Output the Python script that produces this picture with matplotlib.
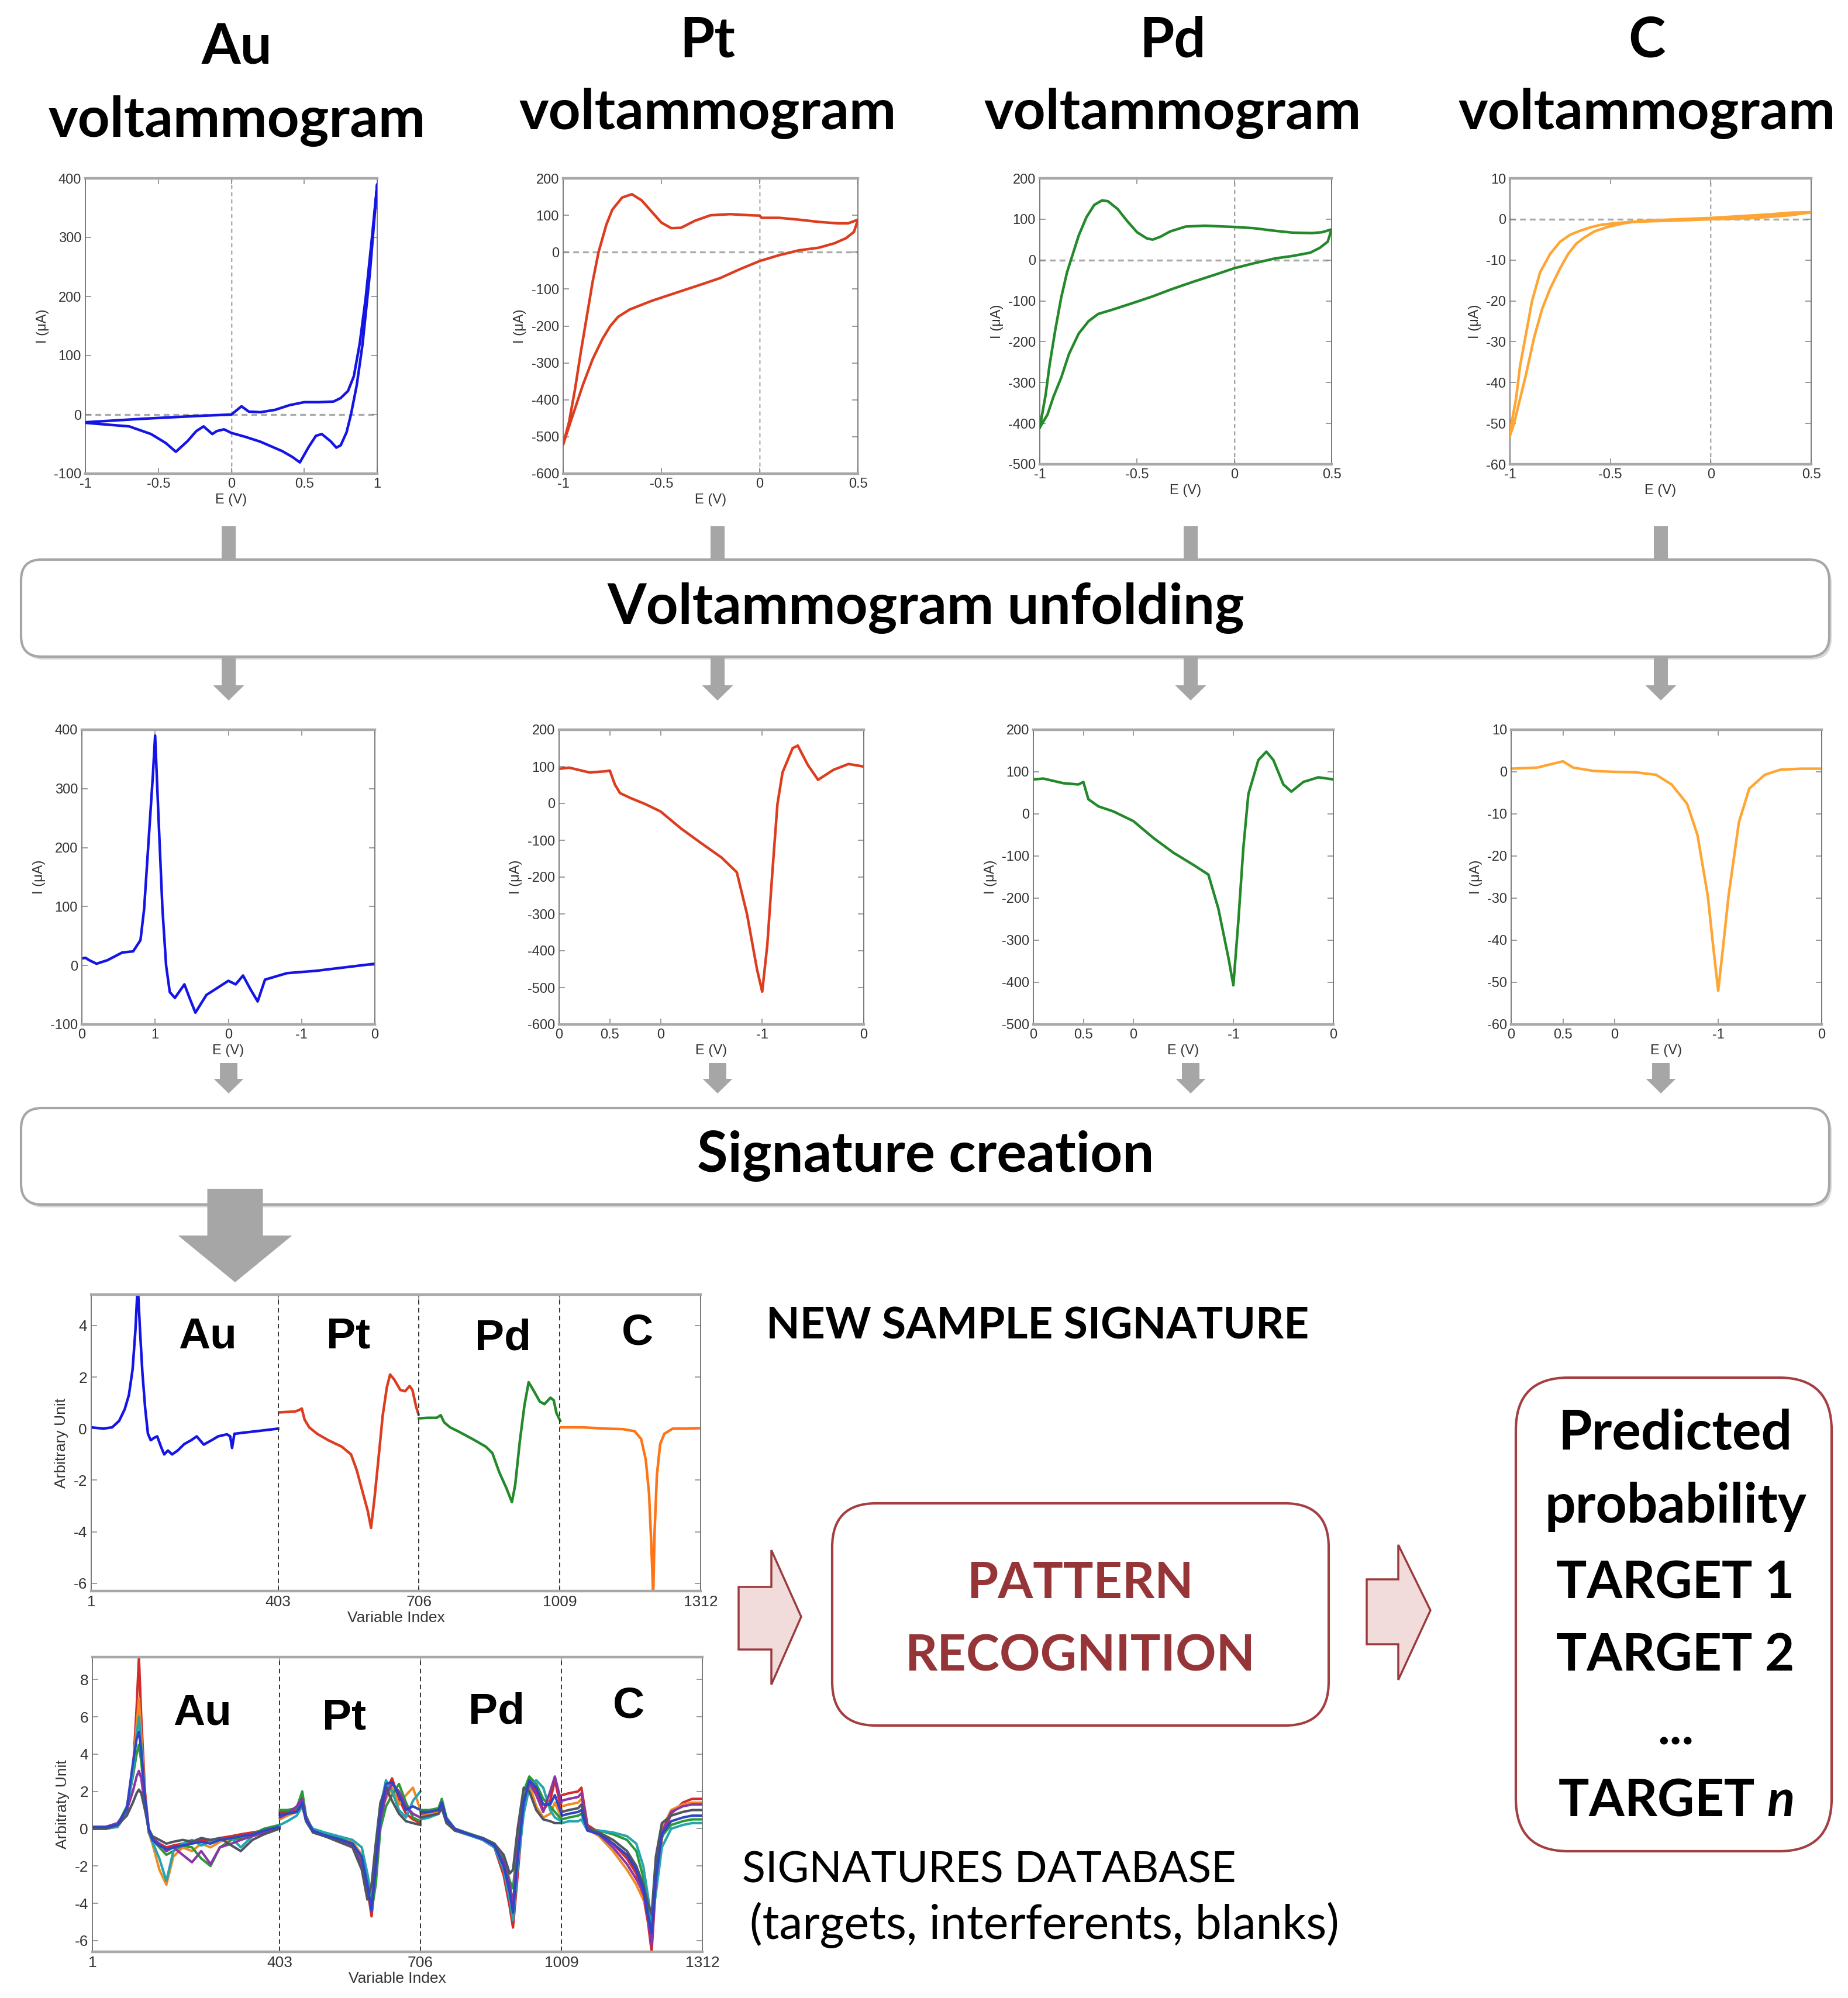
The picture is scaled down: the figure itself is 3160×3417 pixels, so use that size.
import matplotlib
matplotlib.use("Agg")
import matplotlib.pyplot as plt
from matplotlib.patches import FancyBboxPatch, Polygon

plt.rcParams['font.family'] = ['Liberation Sans', 'DejaVu Sans']
plt.rcParams['axes.unicode_minus'] = False
plt.rcParams['mathtext.fontset'] = 'custom'
plt.rcParams['mathtext.it'] = 'Lato:bold:italic'

W, H = 3160, 3417
BIG = ['Lato', 'DejaVu Sans']

# ---------------- cyclic voltammograms (E in V, I in uA) ----------------
au_cv_e = [-1.0, -0.8, -0.6, -0.4, -0.2, 0.0, 0.04, 0.07, 0.12, 0.2, 0.3, 0.4, 0.5, 0.6, 0.7, 0.75,
           0.8, 0.84, 0.88, 0.92, 0.96, 1.0,
           0.95, 0.9, 0.86, 0.82, 0.79, 0.75, 0.72, 0.68, 0.62, 0.58, 0.53, 0.47, 0.42, 0.35, 0.2,
           0.1, 0.0, -0.05, -0.1, -0.13, -0.19, -0.24, -0.3, -0.38, -0.45, -0.55, -0.7, -0.85, -1.0]
au_cv_i = [-13, -10, -7, -4.5, -2, 0, 8, 14, 5, 4, 8, 16, 21, 21, 22, 28,
           40, 65, 120, 195, 290, 390,
           240, 120, 50, 0, -30, -52, -56, -45, -33, -36, -55, -81, -72, -62, -46,
           -38, -31, -25, -28, -33, -20, -28, -45, -63, -48, -33, -20, -17, -14]

pt_cv_e = [-1.0, -0.97, -0.94, -0.91, -0.88, -0.85, -0.82, -0.78, -0.75, -0.7, -0.65, -0.6, -0.55,
           -0.5, -0.45, -0.4, -0.33, -0.25, -0.15, -0.05, 0.0, 0.01, 0.1, 0.2, 0.3, 0.4, 0.45, 0.5,
           0.48, 0.44, 0.38, 0.3, 0.2, 0.1, 0.0, -0.1, -0.2, -0.3, -0.42, -0.55, -0.66, -0.72,
           -0.76, -0.8, -0.85, -0.9, -0.95, -1.0]
pt_cv_i = [-520, -460, -372, -270, -175, -80, 0, 75, 115, 148, 157, 140, 110,
           80, 65, 66, 85, 100, 103, 100, 99, 93, 93, 88, 82, 78, 78, 88,
           55, 38, 24, 12, 5, -8, -24, -46, -70, -88, -109, -132, -155, -175,
           -200, -235, -290, -360, -440, -520]

pd_cv_e = [-1.0, -0.97, -0.95, -0.92, -0.89, -0.86, -0.84, -0.8, -0.76, -0.72, -0.68, -0.65, -0.6,
           -0.55, -0.5, -0.45, -0.42, -0.38, -0.33, -0.25, -0.15, 0.0, 0.1, 0.2, 0.3, 0.4, 0.45, 0.5,
           0.48, 0.44, 0.39, 0.3, 0.21, 0.1, 0.0, -0.1, -0.21, -0.32, -0.42, -0.52, -0.63, -0.7,
           -0.75, -0.8, -0.85, -0.89, -0.93, -0.96, -1.0]
pd_cv_i = [-410, -330, -258, -170, -92, -30, 0, 60, 105, 135, 146, 144, 125,
           95, 68, 53, 50, 57, 70, 82, 84, 81, 78, 72, 67, 66, 68, 75,
           45, 30, 18, 10, 4, -8, -20, -36, -53, -71, -89, -105, -122, -132,
           -150, -180, -230, -288, -335, -378, -410]

c_cv_e = [-1.0, -0.97, -0.95, -0.92, -0.89, -0.85, -0.8, -0.75, -0.7, -0.66, -0.6, -0.55, -0.48,
          -0.4, -0.3, -0.22, -0.1, 0.0, 0.1, 0.22, 0.3, 0.4, 0.5,
          0.4, 0.3, 0.2, 0.1, 0.0, -0.1, -0.2, -0.3, -0.36, -0.42, -0.48, -0.52, -0.58, -0.63,
          -0.67, -0.71, -0.75, -0.8, -0.84, -0.88, -0.92, -0.95, -0.98, -1.0]
c_cv_i = [-52, -44, -36, -28, -20, -13, -8.5, -5.5, -3.8, -3.0, -2.0, -1.4, -1.0,
          -0.7, -0.5, -0.4, -0.2, 0.0, 0.1, 0.3, 0.6, 1.0, 1.7,
          1.6, 1.2, 0.9, 0.6, 0.3, 0.1, -0.1, -0.3, -0.5, -0.9, -1.5, -2.0, -3.0, -4.5,
          -6.0, -8.5, -12, -17, -22, -29, -38, -44, -50, -53]

# ---------------- unfolded voltammograms (sweep position, I in uA) ----------------
au_unf_x = [0, 0.05, 0.1, 0.2, 0.35, 0.55, 0.7, 0.8, 0.85, 0.9, 0.97, 1.0, 1.05, 1.1, 1.15, 1.2,
            1.27, 1.4, 1.47, 1.55, 1.7, 2.0, 2.1, 2.2, 2.3, 2.4, 2.5, 2.8, 3.2, 3.6, 4.0]
au_unf_y = [12, 13, 9, 3, 9, 22, 24, 43, 96, 191, 324, 390, 240, 96, 0, -45,
            -55, -32, -55, -80, -50, -26, -32, -17, -40, -61, -24, -13, -9, -3, 3]

pt_unf_x = [0, 0.1, 0.3, 0.45, 0.5, 0.55, 0.6, 0.7, 0.85, 1.0, 1.2, 1.4, 1.6, 1.75, 1.85, 1.95,
            2.0, 2.05, 2.1, 2.15, 2.2, 2.3, 2.35, 2.45, 2.55, 2.7, 2.85, 3.0]
pt_unf_y = [94, 97, 84, 87, 89, 51, 28, 15, -2, -22, -68, -108, -147, -187, -300, -452,
            -511, -385, -187, -2, 84, 150, 157, 104, 64, 91, 107, 100]

pd_unf_x = [0, 0.1, 0.3, 0.45, 0.5, 0.55, 0.65, 0.8, 1.0, 1.2, 1.4, 1.6, 1.75, 1.85, 1.95, 2.0,
            2.05, 2.1, 2.15, 2.25, 2.33, 2.4, 2.5, 2.58, 2.7, 2.85, 3.0]
pd_unf_y = [82, 84, 73, 70, 76, 35, 18, 6, -17, -57, -92, -121, -144, -225, -341, -407,
            -254, -80, 47, 128, 148, 128, 70, 53, 76, 87, 82]

c_unf_x = [0, 0.25, 0.45, 0.5, 0.6, 0.8, 1.0, 1.2, 1.4, 1.55, 1.7, 1.8, 1.9, 1.95, 2.0, 2.05,
           2.1, 2.2, 2.3, 2.45, 2.6, 2.8, 3.0]
c_unf_y = [0.75, 1.0, 2.2, 2.5, 1.0, 0.2, 0, -0.1, -0.7, -3, -7.6, -15, -29.5, -41, -52, -41,
           -29.5, -12, -4, -0.7, 0.5, 0.75, 0.75]

# ---------------- new sample signature (variable index, arbitrary unit) ----------------
sig_au_x = [1, 27, 46, 61, 73, 82, 90, 96, 101, 106, 111, 117, 123, 129, 137, 143, 151, 158, 166,
            175, 187, 201, 216, 228, 243, 260, 274, 293, 300, 304, 309, 332, 366, 403]
sig_au_y = [0.05, 0.0, 0.05, 0.3, 0.75, 1.3, 2.3, 3.8, 5.6, 3.8, 2.2, 0.8, -0.2, -0.45, -0.35, -0.3,
            -0.7, -1.0, -0.85, -1.0, -0.85, -0.6, -0.45, -0.3, -0.62, -0.45, -0.3, -0.22, -0.3,
            -0.75, -0.2, -0.15, -0.08, 0.0]
sig_pt_x = [406, 424, 439, 448, 454, 460, 470, 487, 511, 540, 560, 572, 584, 596, 603, 611, 621,
            628, 637, 644, 653, 666, 676, 686, 692, 700, 705]
sig_pt_y = [0.63, 0.65, 0.66, 0.72, 0.78, 0.35, 0.05, -0.2, -0.45, -0.7, -1.0, -1.6, -2.4, -3.2,
            -3.85, -2.6, -0.8, 0.5, 1.6, 2.1, 1.9, 1.5, 1.45, 1.65, 1.5, 0.85, 0.55]
sig_pd_x = [706, 725, 744, 753, 760, 773, 792, 821, 850, 864, 879, 894, 906, 913, 923, 933, 942,
            952, 966, 976, 989, 996, 1002, 1010]
sig_pd_y = [0.4, 0.42, 0.42, 0.52, 0.25, 0.05, -0.12, -0.4, -0.7, -0.95, -1.7, -2.3, -2.85, -2.2,
            -0.5, 0.9, 1.8, 1.5, 1.05, 0.95, 1.2, 1.1, 0.6, 0.3]
sig_c_x = [1012, 1058, 1107, 1145, 1170, 1184, 1194, 1201, 1206, 1210, 1213, 1218, 1225, 1234,
           1252, 1281, 1312]
sig_c_y = [0.05, 0.05, 0.0, -0.02, -0.1, -0.4, -1.2, -2.5, -4.5, -6.5, -4.0, -1.8, -0.6, -0.2,
           0.0, 0.0, 0.02]

# ---------------- signatures database (7 visible traces per electrode) ----------------
db_au_x = [1, 30, 55, 75, 88, 96, 101, 106, 114, 122, 130, 145, 160, 175, 195, 215, 235, 255,
           275, 300, 320, 345, 370, 403]
db_au = [
    [0.0, 0.0, 0.1, 0.8, 3.0, 6.5, 9.2, 6.0, 2.0, 0.0, -0.6, -0.8, -1.0, -0.9, -0.8, -0.7, -0.6, -0.7, -0.5, -0.4, -0.3, -0.2, -0.1, 0.1],
    [0.1, 0.1, 0.2, 1.0, 3.2, 5.5, 7.0, 5.0, 1.8, -0.2, -0.8, -2.2, -3.0, -1.5, -1.0, -1.2, -0.8, -1.0, -0.7, -0.5, -0.4, -0.3, -0.1, 0.1],
    [0.0, 0.0, 0.2, 1.2, 2.8, 4.0, 4.5, 3.6, 1.5, -0.2, -0.6, -1.0, -1.4, -1.2, -0.9, -1.0, -1.6, -2.0, -1.0, -0.6, -0.5, -0.3, 0.0, 0.2],
    [0.0, 0.0, 0.1, 0.9, 3.0, 5.0, 6.0, 4.5, 1.6, -0.1, -0.7, -1.6, -2.8, -1.2, -0.8, -0.6, -0.9, -0.7, -0.6, -0.5, -1.0, -0.4, -0.2, 0.1],
    [0.0, 0.1, 0.3, 1.0, 2.0, 2.8, 3.1, 2.7, 1.2, -0.1, -0.5, -0.8, -1.2, -1.0, -1.4, -1.8, -1.2, -1.9, -1.0, -0.8, -0.6, -0.4, -0.2, 0.0],
    [0.0, 0.0, 0.2, 0.7, 1.4, 1.9, 2.1, 1.9, 1.0, 0.0, -0.4, -0.6, -0.8, -0.7, -0.6, -0.7, -0.5, -0.6, -0.5, -0.9, -1.2, -0.6, -0.3, 0.0],
    [0.1, 0.1, 0.2, 1.1, 3.5, 4.8, 5.2, 4.2, 1.7, 0.0, -0.6, -0.9, -1.1, -1.0, -0.9, -0.8, -0.7, -0.8, -0.6, -0.5, -0.4, -0.3, -0.1, 0.1],
]
db_pt_x = [404, 420, 440, 452, 460, 475, 500, 530, 560, 580, 592, 601, 610, 620, 632, 645, 660,
           675, 690, 706]
db_pt = [
    [0.9, 0.9, 1.0, 1.8, 0.6, -0.2, -0.4, -0.6, -0.9, -1.8, -3.2, -4.7, -2.5, 0.8, 2.0, 2.7, 1.6, 0.8, 0.5, 0.3],
    [0.5, 0.7, 0.9, 1.5, 0.5, -0.1, -0.3, -0.5, -0.7, -1.4, -2.8, -4.2, -1.8, 1.0, 1.6, 2.2, 1.3, 1.8, 2.2, 1.0],
    [1.0, 1.0, 1.1, 2.0, 0.7, -0.1, -0.3, -0.5, -0.8, -1.6, -3.0, -4.4, -3.0, 0.0, 1.2, 1.8, 2.4, 1.4, 0.6, 0.4],
    [0.2, 0.4, 0.7, 1.2, 0.5, 0.0, -0.2, -0.4, -0.6, -1.0, -2.4, -3.6, -1.2, 1.2, 2.6, 2.0, 1.0, 0.6, 1.5, 2.0],
    [0.6, 0.8, 1.2, 1.6, 0.6, -0.1, -0.4, -0.6, -0.9, -1.9, -3.5, -4.0, -2.2, 0.4, 1.8, 2.4, 2.0, 1.2, 0.8, 0.6],
    [0.8, 0.8, 0.9, 1.3, 0.4, -0.2, -0.4, -0.7, -1.0, -2.2, -3.8, -3.0, -0.8, 1.4, 2.2, 1.5, 0.8, 0.4, 0.3, 0.2],
    [0.7, 0.8, 0.9, 1.4, 0.5, -0.1, -0.35, -0.55, -0.8, -1.5, -3.0, -4.4, -2.0, 0.8, 2.4, 2.5, 1.8, 1.0, 1.2, 1.0],
]
db_pd_x = [707, 725, 745, 752, 762, 780, 810, 840, 865, 885, 898, 905, 915, 928, 940, 955, 970,
           985, 995, 1009]
db_pd = [
    [0.9, 0.9, 1.0, 1.5, 0.5, 0.0, -0.3, -0.6, -1.0, -2.5, -4.2, -5.3, -2.5, 1.2, 2.6, 2.0, 1.0, 1.5, 2.6, 1.0],
    [0.7, 0.8, 0.9, 1.3, 0.4, -0.1, -0.3, -0.5, -0.9, -2.0, -3.5, -4.6, -1.5, 1.6, 2.4, 1.2, 0.6, 0.8, 1.4, 0.6],
    [1.0, 1.0, 1.1, 1.6, 0.6, 0.0, -0.25, -0.5, -0.8, -1.6, -2.8, -3.2, -0.8, 2.0, 2.8, 2.4, 1.6, 1.2, 0.9, 0.5],
    [0.5, 0.6, 0.8, 1.2, 0.4, -0.1, -0.35, -0.6, -1.0, -2.2, -3.8, -4.9, -2.0, 0.8, 2.2, 2.6, 2.2, 1.0, 0.6, 0.4],
    [0.8, 0.9, 1.0, 1.4, 0.5, 0.0, -0.3, -0.55, -0.9, -1.8, -3.0, -4.0, -1.2, 1.4, 2.5, 1.8, 0.9, 2.0, 2.8, 1.4],
    [0.6, 0.7, 0.8, 1.1, 0.3, -0.1, -0.3, -0.5, -0.8, -1.4, -2.4, -2.2, 0.0, 2.2, 2.0, 1.0, 0.5, 0.4, 0.3, 0.3],
    [0.9, 0.9, 1.0, 1.4, 0.5, 0.0, -0.3, -0.55, -0.9, -2.0, -3.4, -4.5, -1.6, 1.4, 2.6, 2.2, 1.3, 1.3, 1.8, 0.8],
]
db_c_x = [1010, 1025, 1045, 1052, 1065, 1090, 1120, 1150, 1170, 1185, 1195, 1203, 1212, 1225,
          1245, 1270, 1290, 1312]
db_c = [
    [1.8, 1.9, 2.0, 2.2, 0.2, -0.2, -0.8, -1.6, -2.4, -3.6, -5.0, -6.6, -3.0, -0.5, 0.8, 1.4, 1.6, 1.6],
    [1.2, 1.3, 1.4, 1.6, 0.0, -0.4, -1.2, -2.2, -3.0, -3.8, -4.4, -5.4, -2.4, 0.0, 1.0, 1.3, 1.4, 1.4],
    [0.5, 0.6, 0.7, 0.8, 0.0, -0.1, -0.3, -0.6, -1.2, -2.6, -4.2, -6.0, -2.0, -0.4, 0.2, 0.4, 0.5, 0.5],
    [0.3, 0.4, 0.4, 0.5, -0.1, -0.1, -0.2, -0.4, -0.8, -2.0, -3.6, -5.0, -3.5, -1.0, 0.0, 0.2, 0.3, 0.3],
    [1.5, 1.6, 1.7, 1.9, 0.1, -0.3, -1.0, -1.9, -2.7, -3.4, -4.8, -6.2, -2.8, -0.2, 0.9, 1.2, 1.3, 1.3],
    [0.9, 1.0, 1.1, 1.3, 0.0, -0.2, -0.6, -1.2, -2.0, -3.0, -4.0, -4.6, -1.5, 0.3, 0.7, 0.9, 1.0, 1.0],
    [0.7, 0.8, 0.9, 1.0, -0.1, -0.3, -0.8, -1.4, -2.2, -3.2, -4.6, -5.6, -2.6, -0.3, 0.4, 0.6, 0.7, 0.7],
]
db_colors = ['#d42a2a', '#f08a24', '#2a9a36', '#23a6b0', '#8a35a8', '#505560', '#2f45c8']

metals = ['Au', 'Pt', 'Pd', 'C']
colors = ['#1414e6', '#dd3d1f', '#23892a', '#ffa533']
sig_colors = ['#1414e6', '#dd3d1f', '#23892a', '#ff7416']


def rect(x0, y0, x1, y1):
    return [x0 / W, 1 - y1 / H, (x1 - x0) / W, (y1 - y0) / H]


def style_axes(ax, fs):
    for side in ('top', 'bottom'):
        ax.spines[side].set_color('#a8a8a8')
        ax.spines[side].set_linewidth(3.2)
    for side in ('left', 'right'):
        ax.spines[side].set_color('#707070')
        ax.spines[side].set_linewidth(1.3)
    ax.tick_params(direction='in', top=True, right=True, length=7, width=1.2,
                   color='#8a8a8a', labelsize=fs, labelcolor='#333333', pad=5)


def down_arrow(ax, xc, y0, yh, y1, sw, hw):
    pts = [(xc - sw / 2, y0), (xc + sw / 2, y0), (xc + sw / 2, yh), (xc + hw / 2, yh),
           (xc, y1), (xc - hw / 2, yh), (xc - sw / 2, yh)]
    ax.add_patch(Polygon(pts, closed=True, fc='#a6a6a6', ec='none', zorder=5))


def block_arrow(ax, x0, x1, x2, ys0, ys1, yh0, yh1, ytip):
    pts = [(x0, ys0), (x1, ys0), (x1, yh0), (x2, ytip), (x1, yh1), (x1, ys1), (x0, ys1)]
    ax.add_patch(Polygon(pts, closed=True, fc='#f2dcdb', ec='#9b3a3c', lw=2.5, zorder=5))


fig = plt.figure(figsize=(W / 100, H / 100), dpi=100)
ov = fig.add_axes([0, 0, 1, 1])
ov.set_xlim(0, W)
ov.set_ylim(H, 0)
ov.axis('off')

# titles
title_x = [405, 1210, 2005, 2816]
title_base = [110, 97, 97, 97]
for m, tx, tb in zip(metals, title_x, title_base):
    ov.text(tx, tb, m, ha='center', va='baseline', fontsize=69, fontweight='bold', family=BIG)
    ov.text(tx, tb + 124, 'voltammogram', ha='center', va='baseline', fontsize=69,
            fontweight='bold', family=BIG)

# process boxes with a light shadow
for (y0, y1, label, ty) in [(957, 1123, 'Voltammogram unfolding', 1040),
                            (1895, 2060, 'Signature creation', 1977)]:
    ov.add_patch(FancyBboxPatch((40, y0 + 5), 3092, y1 - y0, boxstyle='round,pad=0,rounding_size=35',
                                fc='#d9d9d9', ec='none', zorder=1))
    ov.add_patch(FancyBboxPatch((36, y0), 3092, y1 - y0, boxstyle='round,pad=0,rounding_size=35',
                                fc='white', ec='#a6a6a6', lw=3, zorder=2))
    ov.text(1583, ty, label, ha='center', va='center', fontsize=69, fontweight='bold',
            family=BIG, zorder=3)

arrow_x = [391, 1227, 2036, 2840]
for ax_c in arrow_x:
    ov.add_patch(Polygon([(ax_c - 12, 900), (ax_c + 12, 900), (ax_c + 12, 957), (ax_c - 12, 957)],
                         closed=True, fc='#a6a6a6', ec='none', zorder=5))
    down_arrow(ov, ax_c, 1123, 1172, 1198, 24, 53)
    down_arrow(ov, ax_c, 1818, 1845, 1870, 30, 51)
down_arrow(ov, 402, 2033, 2113, 2193, 95, 195)

# pattern recognition and prediction
ov.add_patch(FancyBboxPatch((1423, 2571), 849, 380, boxstyle='round,pad=0,rounding_size=75',
                            fc='white', ec='#a33e41', lw=3, zorder=2))
ov.text(1847, 2733, 'PATTERN', ha='center', va='baseline', fontsize=62, fontweight='bold',
        color='#963537', family=BIG)
ov.text(1847, 2858, 'RECOGNITION', ha='center', va='baseline', fontsize=62, fontweight='bold',
        color='#963537', family=BIG)
ov.add_patch(FancyBboxPatch((2592, 2356), 540, 810, boxstyle='round,pad=0,rounding_size=90',
                            fc='white', ec='#a33e41', lw=3, zorder=2))
pred_lines = ['Predicted', 'probability', 'TARGET 1', 'TARGET 2', '...', 'TARGET $n$']
pred_base = [2479, 2604, 2733, 2858, 2984, 3105]
pred_size = [67, 67, 63, 63, 63, 63]
for line, yb, fs in zip(pred_lines, pred_base, pred_size):
    ov.text(2865, yb, line, ha='center', va='baseline', fontsize=fs, fontweight='bold', family=BIG)
block_arrow(ov, 1263, 1319, 1370, 2714, 2821, 2651, 2881, 2765)
block_arrow(ov, 2337, 2391, 2446, 2701, 2812, 2642, 2873, 2754)

ov.text(1310, 2290, 'NEW SAMPLE SIGNATURE', ha='left', va='baseline', fontsize=54,
        fontweight='bold', family=BIG)
ov.text(1269, 3220, 'SIGNATURES DATABASE', ha='left', va='baseline', fontsize=53, family=BIG)
ov.text(1282, 3316, '(targets, interferents, blanks)', ha='left', va='baseline', fontsize=58,
        family=BIG)

# ---------------- top row: voltammograms ----------------
cv_rects = [rect(146, 305, 645, 810), rect(963, 305, 1467, 810),
            rect(1778, 305, 2277, 794), rect(2582, 305, 3097, 794)]
cv_data = [(au_cv_e, au_cv_i), (pt_cv_e, pt_cv_i), (pd_cv_e, pd_cv_i), (c_cv_e, c_cv_i)]
cv_xlim = [(-1, 1), (-1, 0.5), (-1, 0.5), (-1, 0.5)]
cv_xticks = [[-1, -0.5, 0, 0.5, 1], [-1, -0.5, 0, 0.5], [-1, -0.5, 0, 0.5], [-1, -0.5, 0, 0.5]]
cv_xlabels = [['-1', '-0.5', '0', '0.5', '1'], ['-1', '-0.5', '0', '0.5'],
              ['-1', '-0.5', '0', '0.5'], ['-1', '-0.5', '0', '0.5']]
ylims = [(-100, 400), (-600, 200), (-500, 200), (-60, 10)]
yticks = [list(range(-100, 401, 100)), list(range(-600, 201, 100)),
          list(range(-500, 201, 100)), list(range(-60, 11, 10))]

for i in range(4):
    ax = fig.add_axes(cv_rects[i])
    ax.axhline(0, color='#aaaaaa', ls=(0, (3, 2)), lw=2.4, zorder=1)
    ax.axvline(0, color='#555555', ls=(0, (5, 4)), lw=1.0, zorder=1)
    ax.plot(cv_data[i][0], cv_data[i][1], color=colors[i], lw=3.2, zorder=3,
            solid_joinstyle='round')
    ax.set_xlim(*cv_xlim[i])
    ax.set_ylim(*ylims[i])
    ax.set_xticks(cv_xticks[i], cv_xlabels[i])
    ax.set_yticks(yticks[i], [str(v) for v in yticks[i]])
    ax.set_xlabel('E (V)', fontsize=17, color='#333333', labelpad=4)
    ax.set_ylabel('I (μA)', fontsize=17, color='#333333', labelpad=6)
    style_axes(ax, 17)

# ---------------- middle row: unfolded voltammograms ----------------
unf_rects = [rect(140, 1248, 641, 1752), rect(956, 1248, 1477, 1752),
             rect(1767, 1248, 2280, 1752), rect(2584, 1248, 3115, 1752)]
unf_data = [(au_unf_x, au_unf_y), (pt_unf_x, pt_unf_y), (pd_unf_x, pd_unf_y), (c_unf_x, c_unf_y)]
unf_ticks = [[0, 1, 2, 3, 4], [0, 0.5, 1, 2, 3], [0, 0.5, 1, 2, 3], [0, 0.5, 1, 2, 3]]
unf_labels = [['0', '1', '0', '-1', '0'], ['0', '0.5', '0', '-1', '0'],
              ['0', '0.5', '0', '-1', '0'], ['0', '0.5', '0', '-1', '0']]
for i in range(4):
    ax = fig.add_axes(unf_rects[i])
    ax.plot(unf_data[i][0], unf_data[i][1], color=colors[i], lw=3.2, solid_joinstyle='round')
    ax.set_xlim(unf_ticks[i][0], unf_ticks[i][-1])
    ax.set_ylim(*ylims[i])
    ax.set_xticks(unf_ticks[i], unf_labels[i])
    ax.set_yticks(yticks[i], [str(v) for v in yticks[i]])
    ax.set_xlabel('E (V)', fontsize=17, color='#333333', labelpad=4)
    ax.set_ylabel('I (μA)', fontsize=17, color='#333333', labelpad=6)
    style_axes(ax, 17)

# ---------------- signature panels ----------------
sig_xticks = [1, 403, 706, 1009, 1312]

ax = fig.add_axes(rect(156, 2214, 1198, 2721))
for xs, ys, c in zip([sig_au_x, sig_pt_x, sig_pd_x, sig_c_x], [sig_au_y, sig_pt_y, sig_pd_y, sig_c_y],
                     sig_colors):
    ax.plot(xs, ys, color=c, lw=3.2, solid_joinstyle='round')
for xv in sig_xticks[1:4]:
    ax.axvline(xv, color='#333333', ls=(0, (4, 3)), lw=1.4)
for m, lx, ly in zip(metals, [251, 554, 887, 1176], [3.56, 3.56, 3.5, 3.7]):
    ax.text(lx, ly, m, ha='center', va='center', fontsize=54, fontweight='bold')
ax.set_xlim(1, 1312)
ax.set_ylim(-6.3, 5.2)
ax.set_xticks(sig_xticks, [str(v) for v in sig_xticks])
ax.set_yticks([-6, -4, -2, 0, 2, 4], ['-6', '-4', '-2', '0', '2', '4'])
ax.set_xlabel('Variable Index', fontsize=19, color='#333333', labelpad=2)
ax.set_ylabel('Arbitrary Unit', fontsize=19, color='#333333', labelpad=6)
style_axes(ax, 19)

ax = fig.add_axes(rect(158, 2834, 1201, 3338))
for xs, block in zip([db_au_x, db_pt_x, db_pd_x, db_c_x], [db_au, db_pt, db_pd, db_c]):
    for row, c in zip(block, db_colors):
        ax.plot(xs, row, color=c, lw=3.0, solid_joinstyle='round')
for xv in sig_xticks[1:4]:
    ax.axvline(xv, color='#333333', ls=(0, (4, 3)), lw=1.4)
for m, lx, ly in zip(metals, [237, 542, 870, 1154], [6.19, 5.94, 6.25, 6.56]):
    ax.text(lx, ly, m, ha='center', va='center', fontsize=54, fontweight='bold')
ax.set_xlim(1, 1312)
ax.set_ylim(-6.6, 9.2)
ax.set_xticks(sig_xticks, [str(v) for v in sig_xticks])
ax.set_yticks([-6, -4, -2, 0, 2, 4, 6, 8], ['-6', '-4', '-2', '0', '2', '4', '6', '8'])
ax.set_xlabel('Variable Index', fontsize=19, color='#333333', labelpad=2)
ax.set_ylabel('Arbitraty Unit', fontsize=19, color='#333333', labelpad=6)
style_axes(ax, 19)

fig.savefig('out.png', dpi=100)
